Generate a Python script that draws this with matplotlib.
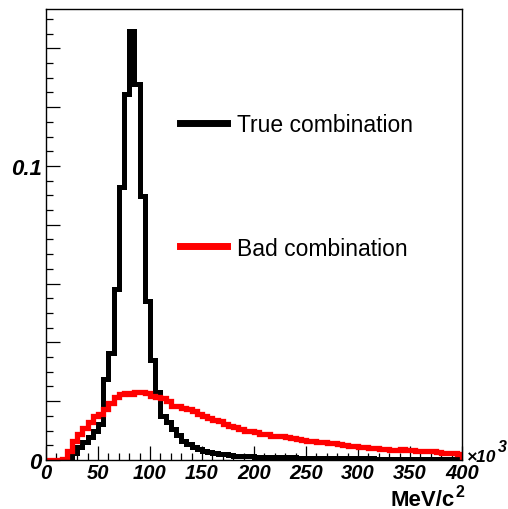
import matplotlib
matplotlib.use("Agg")
import matplotlib.pyplot as plt
import numpy as np
from matplotlib.lines import Line2D
from matplotlib.ticker import MultipleLocator, FuncFormatter

# histogram range (x in units of 10^3 MeV/c^2), 80 bins
x_lo = 0
x_hi = 400
n_bins = 80

true_comb = [
    0, 0, 0, 0, 0.0008, 0.0025, 0.0045, 0.0060, 0.0078, 0.0100,
    0.0122, 0.0276, 0.0364, 0.0580, 0.0930, 0.1245, 0.1460, 0.1280, 0.0898, 0.0540,
    0.0340, 0.0230, 0.0150, 0.0130, 0.0105, 0.0085, 0.0065, 0.0054, 0.0045, 0.0037,
    0.0031, 0.0028, 0.0024, 0.0021, 0.0019, 0.0017, 0.0015, 0.0014, 0.0013, 0.0012,
    0.0011, 0.0011, 0.0010, 0.0010, 0.0010, 0.0009, 0.0009, 0.0009, 0.0008, 0.0008,
    0.0008, 0.0008, 0.0007, 0.0007, 0.0007, 0.0007, 0.0007, 0.0006, 0.0006, 0.0006,
    0.0006, 0.0006, 0.0006, 0.0005, 0.0005, 0.0005, 0.0005, 0.0005, 0.0005, 0.0005,
    0.0005, 0.0004, 0.0004, 0.0004, 0.0004, 0.0004, 0.0004, 0.0004, 0.0004, 0.0004,
]

bad_comb = [
    0, 0, 0, 0.0003, 0.0030, 0.0065, 0.0090, 0.0110, 0.0130, 0.0150,
    0.0155, 0.0175, 0.0195, 0.0215, 0.0225, 0.0228, 0.0226, 0.0230, 0.0232, 0.0228,
    0.0218, 0.0213, 0.0210, 0.0200, 0.0185, 0.0182, 0.0178, 0.0172, 0.0165, 0.0156,
    0.0150, 0.0142, 0.0136, 0.0131, 0.0124, 0.0117, 0.0112, 0.0107, 0.0100, 0.0097,
    0.0094, 0.0090, 0.0087, 0.0083, 0.0081, 0.0080, 0.0078, 0.0074, 0.0071, 0.0068,
    0.0066, 0.0063, 0.0061, 0.0060, 0.0059, 0.0057, 0.0054, 0.0052, 0.0049, 0.0047,
    0.0045, 0.0043, 0.0042, 0.0040, 0.0037, 0.0036, 0.0035, 0.0035, 0.0036, 0.0035,
    0.0033, 0.0032, 0.0030, 0.0029, 0.0029, 0.0028, 0.0025, 0.0023, 0.0023, 0.0022,
]

labels = ["True combination", "Bad combination"]
colors = ["black", "red"]

W, H = 508, 510
FONT = "Liberation Sans"


def fx(px):
    return px / W


def fy(py):
    return 1 - py / H


def ylabel_fmt(v, pos):
    if abs(v) < 1e-9:
        return "0"
    if abs(v - 0.1) < 1e-9:
        return "0.1"
    return ""


def main():
    plt.rcParams['font.family'] = [FONT, 'DejaVu Sans']
    fig = plt.figure(figsize=(W / 100, H / 100), dpi=100)
    ax = fig.add_axes([fx(46), fy(461), fx(462) - fx(46), fy(10) - fy(461)])

    edges = np.linspace(x_lo, x_hi, n_bins + 1)
    ax.stairs(true_comb, edges, baseline=0, color=colors[0], linewidth=3.6, zorder=2)
    ax.stairs(bad_comb, edges, baseline=0, color=colors[1], linewidth=3.8, zorder=3)

    ax.set_xlim(x_lo, x_hi)
    ax.set_ylim(0, 0.1534)

    for s in ax.spines.values():
        s.set_linewidth(1.0)
        s.set_zorder(5)

    ax.xaxis.set_major_locator(MultipleLocator(50))
    ax.xaxis.set_minor_locator(MultipleLocator(10))
    ax.yaxis.set_major_locator(MultipleLocator(0.02))
    ax.yaxis.set_minor_locator(MultipleLocator(0.005))
    ax.yaxis.set_major_formatter(FuncFormatter(ylabel_fmt))

    ax.tick_params(which='both', direction='in', top=False, right=False, width=0.9)
    ax.tick_params(which='major', length=10)
    ax.tick_params(which='minor', length=5)
    ax.tick_params(axis='x', which='major', pad=2, labelsize=14.5)
    ax.tick_params(axis='y', which='major', pad=3.2, labelsize=16)
    for lab in ax.get_xticklabels() + ax.get_yticklabels():
        lab.set_fontweight('bold')
        lab.set_fontstyle('italic')

    # axis title, superscript drawn separately so it is large like ROOT's
    t = fig.text(fx(455), fy(506), "MeV/c", ha='right', va='baseline',
                 fontsize=16, fontweight='bold')
    fig.canvas.draw()
    tb = t.get_window_extent()
    fig.text(tb.x1 / fig.bbox.width, fy(497), "2", ha='left', va='baseline',
             fontsize=11.5, fontweight='bold')

    # exponent: x10^3 placed after the axis end
    base = fig.text(fx(467), fy(462), "\u00d710", ha='left', va='baseline',
                    fontsize=12.5, fontweight='bold', fontstyle='italic')
    fig.canvas.draw()
    bb = base.get_window_extent()
    fig.text(bb.x1 / fig.bbox.width + 0.002, fy(452), "3", ha='left', va='baseline',
             fontsize=11.5, fontweight='bold', fontstyle='italic')

    # legend
    for lab, col, yy in zip(labels, colors, [123.5, 247]):
        fig.add_artist(Line2D([fx(180), fx(227)], [fy(yy), fy(yy)], color=col,
                              linewidth=5, transform=fig.transFigure))
        fig.text(fx(237), fy(yy), lab, ha='left', va='center_baseline', fontsize=16.5)

    fig.savefig("out.png", dpi=100, facecolor='white')


if __name__ == "__main__":
    main()
